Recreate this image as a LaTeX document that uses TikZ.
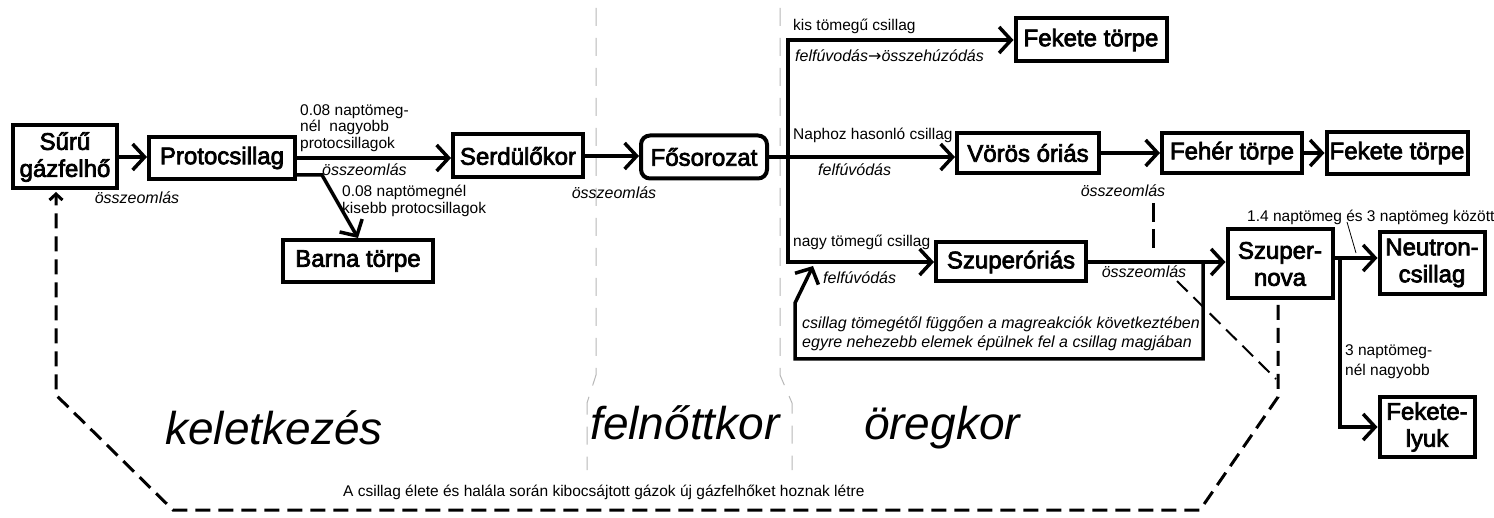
\documentclass[tikz,border=0pt]{standalone}
\usepackage{fontspec}
\setmainfont{Liberation Sans}
\newfontfamily\boxfont[FakeBold=3]{Liberation Sans}
\newfontfamily\arrowfont{DejaVu Sans}
\usetikzlibrary{arrows.meta}
\begin{document}
\begin{tikzpicture}[x=1pt,y=-1pt,
  box/.style={draw, line width=4pt, inner sep=0pt, font=\boxfont\fontsize{24}{27}\selectfont, align=center},
  conn/.style={line width=3.5pt, line join=miter, -{Straight Barb[length=12pt,width=26pt]}},
  plain/.style={line width=3.5pt},
  lbl/.style={inner sep=0pt, font=\fontsize{15.5}{16.5}\selectfont, align=left},
  ilbl/.style={inner sep=0pt, font=\fontsize{16}{19}\selectfont\itshape, align=left},
  big/.style={inner sep=0pt, font=\fontsize{46}{50}\selectfont\itshape},
  ret/.style={line width=3pt, dash pattern=on 15pt off 8pt},
  sep/.style={draw=black!28, line width=1pt, dash pattern=on 18pt off 12pt},
]
\fill[white] (0,0) rectangle (1494,518);
\useasboundingbox (0,0) rectangle (1494,518);

% separators
\draw[sep] (596,8) -- (596,375) -- (587,403) -- (587,470);
\draw[sep] (780,8) -- (780,375) -- (792,403) -- (792,470);

% boxes
\node[box, minimum width=104pt, minimum height=63pt] (sgf) at (65,157) {Sűrű\\gázfelhő};
\node[box, minimum width=146pt, minimum height=42pt] (proto) at (222,158) {Protocsillag};
\node[box, minimum width=150pt, minimum height=42pt] (barna) at (358,261) {Barna törpe};
\node[box, minimum width=130pt, minimum height=43pt] (serd) at (518,156) {Serdülőkor};
\node[box, rounded corners=9pt, minimum width=126pt, minimum height=43pt] (fos) at (704,157) {Fősorozat};
\node[box, minimum width=151pt, minimum height=43pt] (fek1) at (1091,40) {Fekete törpe};
\node[box, minimum width=142pt, minimum height=40pt] (voros) at (1028,153) {Vörös óriás};
\node[box, minimum width=140pt, minimum height=40pt] (feher) at (1232,153) {Fehér törpe};
\node[box, minimum width=141pt, minimum height=42pt] (fek2) at (1397,153) {Fekete törpe};
\node[box, minimum width=150pt, minimum height=39pt] (szo) at (1011,262) {Szuperóriás};
\node[box, minimum width=105pt, minimum height=69pt] (szn) at (1280,264) {Szuper-\\nova};
\node[box, minimum width=105pt, minimum height=62pt] (neut) at (1432,263) {Neutron-\\csillag};
\node[box, minimum width=95pt, minimum height=60pt] (fl) at (1427,427) {Fekete-\\lyuk};

% helper coordinates
\coordinate (pb0) at (295,175);
\coordinate (pb1) at (322,175);
\coordinate (j) at (788,157);
\coordinate (jt) at (788,40);
\coordinate (jb) at (788,262);
\coordinate (nb) at (1340,258);
\coordinate (f0) at (1203,262);
\coordinate (f1) at (1203,359);
\coordinate (f2) at (795,359);
\coordinate (f3) at (795,303);
\coordinate (f4) at (813,266);
\coordinate (da0) at (1153,203);
\coordinate (da1) at (1153,250);
\coordinate (db0) at (1177,281);
\coordinate (db1) at (1276,379);
\coordinate (r0) at (1278,305);
\coordinate (r1) at (1278,397);
\coordinate (r2) at (1200,510);
\coordinate (r3) at (173,510);
\coordinate (r4) at (56,395);
\coordinate (r5) at (56,192);
\coordinate (le0) at (1347,222);
\coordinate (le1) at (1356,253);

% connectors
\draw[conn] (sgf.east) -- (sgf.east -| proto.west);
\draw[conn] (proto.east) -- (proto.east -| serd.west);
\draw[conn] (pb0) -- (pb1) -- (barna.north);
\draw[conn] (serd.east) -- (serd.east -| fos.west);
\draw[plain] (fos.east) -- (j);
\draw[conn] (j) -- (j -| voros.west);
\draw[conn] (j) -- (jt) -- (fek1.west);
\draw[conn] (j) -- (jb) -- (szo.west);
\draw[conn] (voros.east) -- (feher.west);
\draw[conn] (feher.east) -- (fek2.west);
\draw[conn] (szo.east) -- (szo.east -| szn.west);
\draw[conn] (nb -| szn.east) -- (nb -| neut.west);
\draw[conn] (nb) -- (nb |- fl.west) -- (fl.west);
\draw[conn] (f0) -- (f1) -- (f2) -- (f3) -- (f4);

% dashed lines
\draw[ret, dash pattern=on 19pt off 7pt] (da0) -- (da1);
\draw[ret, line width=2pt] (db0) -- (db1);
\draw[ret, -{Straight Barb[length=6pt,width=13pt]}] (r0) -- (r1) -- (r2) -- (r3) -- (r4) -- (r5);
\draw[line width=0.8pt] (le0) -- (le1);

% labels
\node[ilbl] (l1) at (137,198) {összeomlás};
\node[lbl, anchor=north west] (l2) at (300,104) {0.08 naptömeg-\\nél\ \ nagyobb\\protocsillagok};
\node[ilbl, anchor=west] (l3) at (322,170) {összeomlás};
\node[lbl, anchor=north west] (l4) at (342,185) {0.08 naptömegnél\\kisebb protocsillagok};
\node[ilbl] (l5) at (614,193) {összeomlás};
\node[lbl, anchor=west] (l6) at (793,26) {kis tömegű csillag};
\node[ilbl, anchor=west] (l7) at (795,56) {felfúvodás{\arrowfont\upshape\fontsize{16}{16}\selectfont →}összehúzódás};
\node[lbl, anchor=west] (l8) at (793,135) {Naphoz hasonló csillag};
\node[ilbl, anchor=west] (l9) at (818,170) {felfúvódás};
\node[ilbl] (l10) at (1123,191) {összeomlás};
\node[lbl, anchor=west] (l11) at (793,242) {nagy tömegű csillag};
\node[ilbl, anchor=west] (l12) at (823,278) {felfúvódás};
\node[ilbl] (l13) at (1144,272) {összeomlás};
\node[ilbl, anchor=north west] (l14) at (802,317) {csillag tömegétől függően a magreakciók következtében\\egyre nehezebb elemek épülnek fel a csillag magjában};
\node[lbl, anchor=west] (l15) at (1247,217) {1.4 naptömeg és 3 naptömeg között};
\node[lbl, anchor=north west, font=\fontsize{15.5}{20}\selectfont] (l16) at (1345,344) {3 naptömeg-\\nél nagyobb};
\node[big] (k1) at (274,428) {keletkezés};
\node[big] (k2) at (685,423) {felnőttkor};
\node[big] (k3) at (942,428) {öregkor};
\node[lbl, anchor=west] (bt) at (343,492) {A csillag élete és halála során kibocsájtott gázok új gázfelhőket hoznak létre};
\end{tikzpicture}
\end{document}
